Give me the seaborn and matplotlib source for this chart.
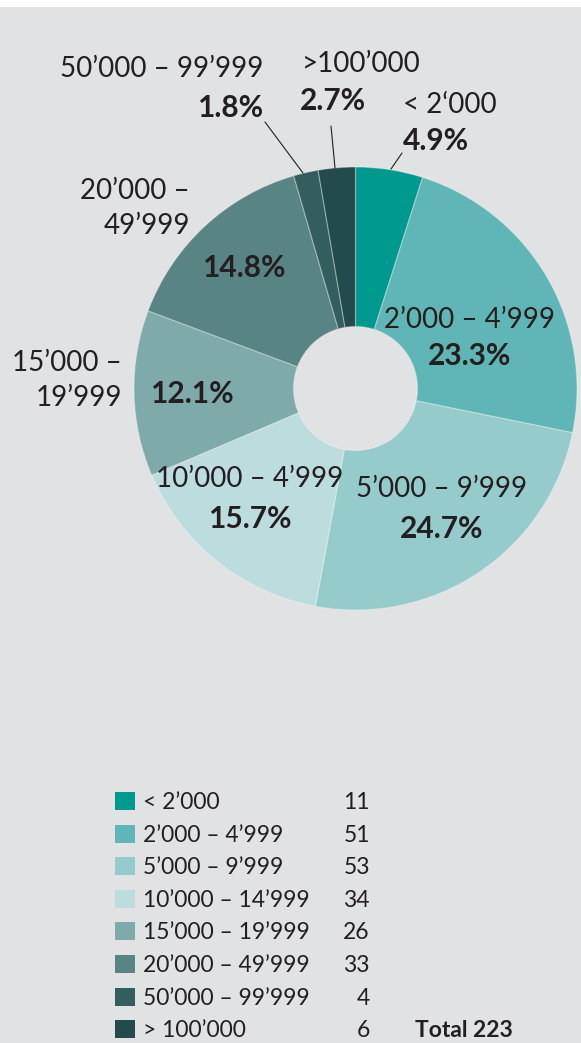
import matplotlib
matplotlib.use("Agg")
import matplotlib.pyplot as plt
from matplotlib.patches import Rectangle
import seaborn as sns

# ---------------- data ----------------
categories = ["< 2’000", "2’000 – 4’999", "5’000 – 9’999", "10’000 – 14’999",
              "15’000 – 19’999", "20’000 – 49’999", "50’000 – 99’999", "> 100’000"]
pie_labels = ["< 2‘000", "2’000 – 4’999", "5’000 – 9’999", "10’000 – 4’999",
              "15’000 –\n19’999", "20’000 –\n49’999", "50’000 – 99’999", ">100’000"]
shares = [4.9, 23.3, 24.7, 15.7, 12.1, 14.8, 1.8, 2.7]
counts = [11, 51, 53, 34, 26, 33, 4, 6]
total_label = "Total 223"
hex_colors = ["#00998f", "#60b6b6", "#96cbcb", "#bddcdd",
              "#7eaaaa", "#588484", "#345e5e", "#244b4b"]

# ---------------- style ----------------
sns.set_theme(style="white")
plt.rcParams["font.family"] = ["Lato", "DejaVu Sans"]
palette = sns.color_palette(hex_colors)

BG = "#e1e2e4"
TXT = "#231f20"
W, H = 581, 1043

fig = plt.figure(figsize=(W / 100, H / 100), dpi=100, facecolor="white")
ax = fig.add_axes([0, 0, 1, 1])
ax.set_facecolor("none")

# donut (image-like coordinates: y grows downward)
cx, cy, R, r_in = 355.5, 388.5, 221.5, 62
ax.pie(shares, colors=palette, center=(cx, cy), radius=R,
       startangle=-90, counterclock=True,
       wedgeprops=dict(width=R - r_in, edgecolor=(1, 1, 1, 0.3), linewidth=0.9))

ax.add_patch(Rectangle((0, 7), W, H - 7, facecolor=BG, edgecolor="none", zorder=-5))
ax.set_xlim(0, W)
ax.set_ylim(H, 0)
ax.set_aspect("auto")
ax.axis("off")

# label layout: (x, baseline of first line, ha) for range, and for percentage
range_pos = [(403, 113, "left"), (470, 328, "center"), (442, 497, "center"),
             (249.5, 487, "center"), (122, 371, "right"), (190, 199, "right"),
             (263, 77, "right"), (302, 72, "left")]
pct_pos = [(403, 150, "left"), (470, 365, "center"), (442, 538, "center"),
           (249.5, 528, "center"), (191.5, 403, "center"), (244, 277, "center"),
           (263, 117, "right"), (300, 110.5, "left")]
line_gap = 34.5

for lab, share, (rx, ry, rha), (px, py, pha) in zip(pie_labels, shares, range_pos, pct_pos):
    for j, line in enumerate(lab.split("\n")):
        ax.text(rx, ry + j * line_gap, line, ha=rha, va="baseline",
                fontsize=20, fontweight="normal", color=TXT)
    ax.text(px, py, f"{share:.1f}%", ha=pha, va="baseline",
            fontsize=21.5, fontweight="bold", color=TXT)

# leader lines for the small slices
leaders = [((265, 122), (303, 173)), ((331, 126), (335, 168)), ((402, 153), (391, 169))]
for (x0, y0), (x1, y1) in leaders:
    ax.plot([x0, x1], [y0, y1], color=TXT, lw=0.8)

# legend
row0, row_gap = 801, 32.6
for i, (cat, n, col) in enumerate(zip(categories, counts, palette)):
    yc = row0 + i * row_gap
    ax.add_patch(Rectangle((115, yc - 9), 20, 18, facecolor=col, edgecolor="none"))
    ax.text(143, yc + 8, cat, ha="left", va="baseline", fontsize=16.5,
            fontweight="normal", color=TXT)
    ax.text(370, yc + 8, f"{n}", ha="right", va="baseline", fontsize=16.5,
            fontweight="normal", color=TXT)
ax.text(415, row0 + 7 * row_gap + 8, total_label, ha="left", va="baseline",
        fontsize=16.5, fontweight="bold", color=TXT)

fig.savefig("out.png", dpi=100, facecolor="white")
